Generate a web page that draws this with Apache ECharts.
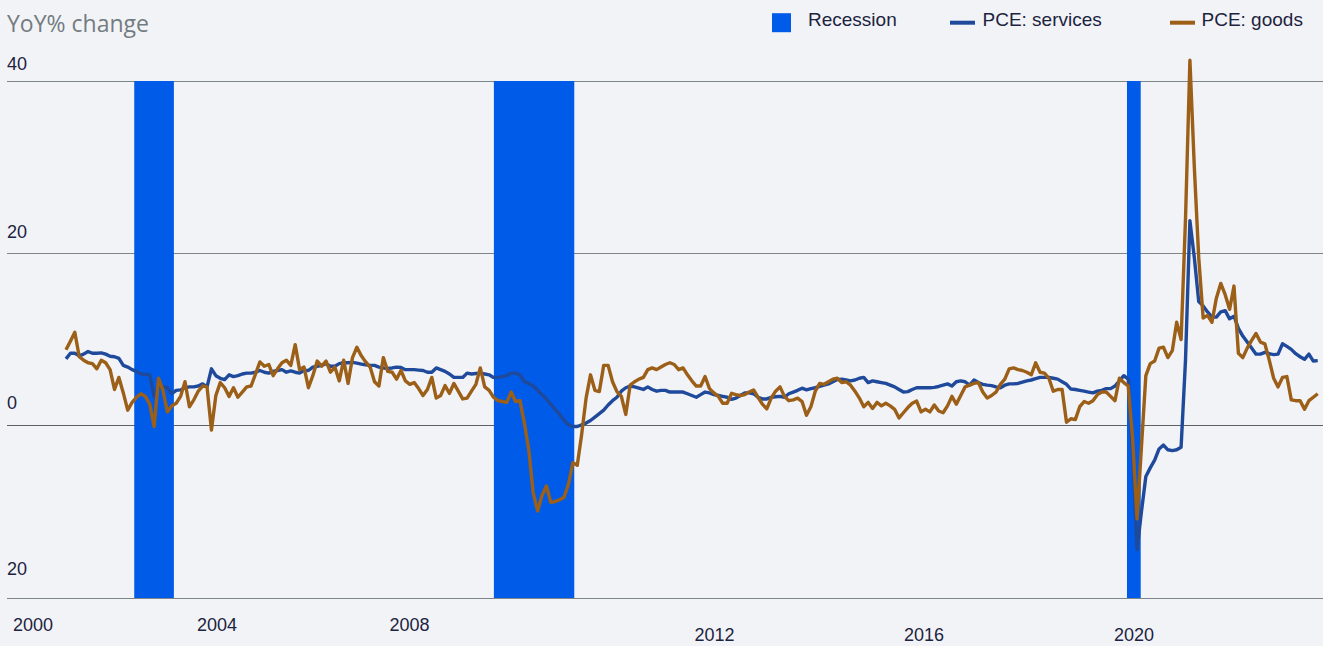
<!DOCTYPE html>
<html>
<head>
<meta charset="utf-8">
<script src="https://cdn.jsdelivr.net/npm/echarts@6/dist/echarts.min.js"></script>
<style>
  html, body { margin: 0; padding: 0; background: #f2f3f7; }
  #chart { width: 1323px; height: 646px; }
</style>
</head>
<body>
<div id="chart"></div>
<script>
// ---- data ----
const startYear = 2000; // first monthly observation: Jan 2000
const pceServices = [
  7.75, 8.4, 8.4, 8.1, 8.3, 8.6, 8.4, 8.4, 8.45, 8.3,
  8.05, 8.0, 7.8, 7.0, 6.8, 6.5, 6.3, 6.0, 5.95, 5.9,
  3.4, 4.5, 4.5, 4.4, 3.7, 4.1, 4.15, 4.4, 4.5, 4.5,
  4.6, 4.85, 4.5, 6.6, 5.8, 5.5, 5.35, 5.9, 5.7, 5.8,
  6.0, 6.1, 6.1, 6.2, 6.4, 6.2, 6.1, 6.3, 6.4, 6.5,
  6.2, 6.35, 6.2, 6.1, 6.4, 6.4, 6.8, 6.9, 7.0, 7.2,
  6.9, 6.9, 7.2, 7.3, 7.3, 7.35, 7.25, 7.15, 7.05, 7.0,
  7.0, 6.8, 6.7, 6.65, 6.7, 6.8, 6.75, 6.5, 6.5, 6.5,
  6.45, 6.4, 6.2, 6.2, 6.7, 6.5, 6.3, 6.0, 5.6, 5.6,
  5.6, 6.1, 6.0, 6.05, 6.1, 6.0, 5.9, 5.6, 5.6, 5.7,
  5.8, 6.1, 6.1, 5.9, 5.1, 4.9, 4.6, 4.1, 3.6, 3.1,
  2.5, 1.9, 1.3, 0.6, 0.1, -0.1, -0.1, 0.1, 0.3, 0.6,
  1.0, 1.4, 1.8, 2.4, 2.9, 3.3, 4.0, 4.4, 4.6, 4.5,
  4.35, 4.2, 4.5, 4.2, 4.0, 4.1, 4.1, 3.9, 3.9, 3.9,
  3.9, 3.7, 3.5, 3.3, 3.6, 3.9, 3.8, 3.6, 3.5, 3.4,
  3.3, 3.05, 3.2, 3.5, 3.8, 3.8, 3.7, 3.3, 3.1, 3.1,
  3.3, 3.35, 3.4, 3.3, 3.7, 3.9, 4.1, 4.35, 4.15, 4.3,
  4.4, 4.55, 4.7, 4.85, 5.1, 5.35, 5.4, 5.3, 5.2, 5.3,
  5.5, 5.6, 5.0, 5.2, 5.1, 5.0, 4.9, 4.7, 4.5, 4.2,
  3.9, 3.95, 4.2, 4.4, 4.4, 4.4, 4.4, 4.45, 4.55, 4.7,
  4.85, 4.6, 5.1, 5.2, 5.1, 4.7, 5.3, 5.0, 4.8, 4.7,
  4.65, 4.5, 4.4, 4.7, 4.85, 4.85, 4.9, 5.05, 5.2, 5.3,
  5.45, 5.6, 5.6, 5.6, 5.5, 5.4, 5.1, 4.8, 4.25, 4.2,
  4.1, 4.0, 3.9, 3.8, 4.0, 4.1, 4.3, 4.3, 4.6, 5.2,
  5.8, 5.4, -3.0, -14.4, -10.0, -5.9, -4.9, -4.0, -2.7, -2.25,
  -2.8, -2.9, -2.8, -2.5, 7.6, 23.8, 19.5, 14.4, 13.9, 13.2,
  12.6, 12.6, 13.2, 13.35, 12.4, 12.7, 11.3, 10.4, 9.7, 9.0,
  8.3, 8.3, 8.5, 8.35, 8.25, 8.3, 9.5, 9.2, 8.85, 8.35,
  8.0, 7.7, 8.3, 7.5, 7.55
];
const pceGoods = [
  8.8, 9.8, 10.85, 8.0, 7.6, 7.3, 7.2, 6.6, 7.6, 7.3,
  6.5, 4.2, 5.6, 3.8, 1.8, 2.7, 3.3, 3.7, 3.4, 2.5,
  -0.1, 5.5, 4.1, 1.6, 2.3, 2.6, 3.4, 5.1, 2.2, 3.0,
  4.0, 4.6, 4.5, -0.5, 3.5, 5.0, 4.4, 3.4, 4.4, 3.3,
  3.9, 4.5, 4.6, 6.0, 7.4, 6.9, 7.1, 5.8, 6.6, 7.3,
  7.6, 7.0, 9.4, 6.5, 6.8, 4.4, 5.8, 7.5, 6.9, 7.5,
  6.2, 6.8, 5.2, 7.6, 4.9, 7.9, 9.1, 8.1, 7.4, 6.8,
  5.1, 4.6, 7.9, 6.3, 6.2, 5.4, 6.4, 5.2, 4.8, 5.0,
  4.3, 3.5, 4.2, 5.6, 3.2, 3.5, 4.65, 3.75, 4.9, 4.0,
  3.1, 3.2, 4.0, 4.8, 6.7, 4.5, 4.1, 3.3, 2.9, 2.8,
  2.7, 3.9, 2.8, 2.9, 0.3, -2.8, -7.8, -9.9, -8.1, -7.0,
  -8.9, -8.8, -8.6, -8.3, -6.8, -4.3, -4.6, -1.0, 3.2, 5.9,
  4.1, 3.95, 7.0, 7.0, 5.1, 3.95, 3.4, 1.3, 4.7, 5.1,
  5.4, 5.6, 6.5, 6.7, 6.5, 6.8, 7.1, 7.3, 7.1, 6.5,
  6.7, 5.9, 5.2, 4.6, 4.6, 5.7, 4.3, 3.8, 3.4, 2.6,
  2.6, 3.75, 3.6, 3.5, 3.6, 3.9, 4.15, 3.3, 2.5, 1.95,
  3.2, 4.0, 4.5, 3.4, 2.9, 3.0, 3.2, 2.8, 1.2, 2.2,
  4.0, 4.9, 4.8, 5.1, 5.4, 5.5, 5.0, 5.1, 4.7, 4.0,
  3.2, 2.2, 2.7, 2.0, 2.7, 2.3, 2.6, 2.3, 1.9, 0.9,
  1.5, 2.1, 2.6, 2.85, 1.6, 1.9, 1.6, 2.4, 1.7, 1.5,
  2.3, 3.4, 2.5, 3.5, 4.5, 4.7, 4.9, 5.0, 3.9, 3.2,
  3.5, 3.9, 4.8, 5.4, 6.6, 6.7, 6.5, 6.4, 6.2, 5.9,
  7.3, 6.2, 6.1, 5.5, 4.0, 4.2, 4.2, 0.4, 0.8, 0.7,
  2.2, 2.8, 2.6, 2.9, 3.6, 3.9, 3.9, 3.4, 2.9, 5.5,
  5.0, 4.6, -1.5, -10.8, -2.5, 5.8, 7.2, 7.5, 9.0, 9.1,
  7.9, 8.7, 12.0, 10.0, 24.0, 42.4, 30.0, 19.5, 12.5, 12.8,
  12.0, 14.8, 16.5, 15.2, 13.5, 16.2, 8.4, 7.9, 9.0, 9.9,
  10.7, 9.7, 9.5, 7.6, 5.5, 4.5, 5.6, 5.7, 3.0, 2.9,
  2.9, 1.9, 2.9, 3.3, 3.7
];
const recessionStart = [2001.29, 2008.09, 2020.06];
const recessionEnd   = [2002.04, 2009.61, 2020.32];
const seriesNames = ['Recession', 'PCE: services', 'PCE: goods'];
const yTickValues = [-20, 0, 20, 40];
const yTickLabels = ['20', '0', '20', '40'];
const xTickLabels = ['2000', '2004', '2008', '2012', '2016', '2020'];

// ---- layout (positions / styles, not data) ----
const xMin = 1998.8845, xMax = 2023.7663;
const xLabelAt  = [1999.376, 2002.855, 2006.494, 2012.261, 2016.222, 2020.193];
const xLabelRow = [0, 0, 0, 1, 1, 1];
const yLabelPadBottom = [40, 28, 25, 16];
const C = {
  bg: '#f2f3f7', rec: '#005ce8', svc: '#1f4a9c', goods: '#9c5f17',
  grid: '#7e858a', zero: '#5e6266', text: '#1c2340', title: '#737c80'
};
const FONT = '"Liberation Sans", Arial, sans-serif';

const monthX = pceServices.map((_, i) => startYear + i / 12);
const svcData = pceServices.map((v, i) => [monthX[i], v]);
const goodsData = pceGoods.map((v, i) => [monthX[i], v]);
const recData = recessionStart.map((s, i) => [s, recessionEnd[i]]);

const yRich = {};
yTickValues.forEach((v, i) => {
  yRich['y' + i] = { fontSize: 18, fontFamily: FONT, color: C.text, lineHeight: 18,
                     padding: [0, 0, yLabelPadBottom[i], 0] };
});
const xRich = {
  r0: { fontSize: 18, fontFamily: FONT, color: C.text, lineHeight: 18, padding: [0, 0, 0, 0] },
  r1: { fontSize: 18, fontFamily: FONT, color: C.text, lineHeight: 18, padding: [19, 0, 0, 0] }
};

function legendRich(padLeft) {
  return { rich: { t: { fontSize: 19, lineHeight: 19, fontFamily: FONT, color: C.text,
                        padding: [0, 0, 7, padLeft] } } };
}
const legendBase = { top: 9.7, padding: 0, orient: 'horizontal', selectedMode: false, formatter: '{t|{name}}' };

const chart = echarts.init(document.getElementById('chart'), null, { renderer: 'svg' });
chart.setOption({
  backgroundColor: C.bg,
  animation: false,
  title: {
    text: 'YoY% change', left: 2, top: 6,
    textStyle: { fontFamily: '"Open Sans", sans-serif', fontSize: 23, fontWeight: 'normal', color: C.title }
  },
  legend: [
    Object.assign({}, legendBase, { data: [seriesNames[0]], left: 772, icon: 'rect', itemWidth: 19, itemHeight: 19, textStyle: legendRich(12) }),
    Object.assign({}, legendBase, { data: [seriesNames[1]], left: 950, icon: 'rect', itemWidth: 25, itemHeight: 4, textStyle: legendRich(2.5) }),
    Object.assign({}, legendBase, { data: [seriesNames[2]], left: 1170, icon: 'rect', itemWidth: 25, itemHeight: 4, textStyle: legendRich(1.5) })
  ],
  grid: { left: 7, right: 0, top: 81, bottom: 48, containLabel: false },
  xAxis: {
    type: 'value', min: xMin, max: xMax,
    axisLine: { show: false, onZero: false },
    axisTick: { show: false },
    splitLine: { show: false },
    axisLabel: {
      customValues: xLabelAt,
      margin: 18,
      hideOverlap: false,
      formatter: (v) => {
        const i = xLabelAt.findIndex(p => Math.abs(p - v) < 1e-6);
        if (i < 0) return '';
        return '{r' + xLabelRow[i] + '|' + xTickLabels[i] + '}';
      },
      rich: xRich
    }
  },
  yAxis: {
    type: 'value', min: -20, max: 40, interval: 20,
    axisLine: { show: false }, axisTick: { show: false },
    splitLine: { show: true, showMinLine: true, showMaxLine: true,
      lineStyle: { width: 1, color: [C.grid, C.zero, C.grid, C.grid] } },
    axisLabel: {
      inside: true, margin: 0, verticalAlign: 'bottom', align: 'left',
      formatter: (v) => {
        const i = yTickValues.indexOf(v);
        return i < 0 ? '' : '{y' + i + '|' + yTickLabels[i] + '}';
      },
      rich: yRich
    }
  },
  series: [
    {
      name: seriesNames[0], type: 'custom', data: recData,
      encode: { x: [0, 1] },
      itemStyle: { color: C.rec },
      renderItem: (params, api) => {
        const p0 = api.coord([api.value(0), 40]);
        const p1 = api.coord([api.value(1), -20]);
        return { type: 'rect', shape: { x: p0[0], y: p0[1], width: p1[0] - p0[0], height: p1[1] - p0[1] },
                 style: { fill: C.rec } };
      },
      silent: true
    },
    {
      name: seriesNames[1], type: 'line', data: svcData, showSymbol: false, symbol: 'none', clip: false,
      color: C.svc, itemStyle: { color: C.svc },
      lineStyle: { width: 3.4, color: C.svc, join: 'round' }, silent: true
    },
    {
      name: seriesNames[2], type: 'line', data: goodsData, showSymbol: false, symbol: 'none', clip: false,
      color: C.goods, itemStyle: { color: C.goods },
      lineStyle: { width: 3.4, color: C.goods, join: 'round' }, silent: true
    }
  ]
});
</script>
</body>
</html>
